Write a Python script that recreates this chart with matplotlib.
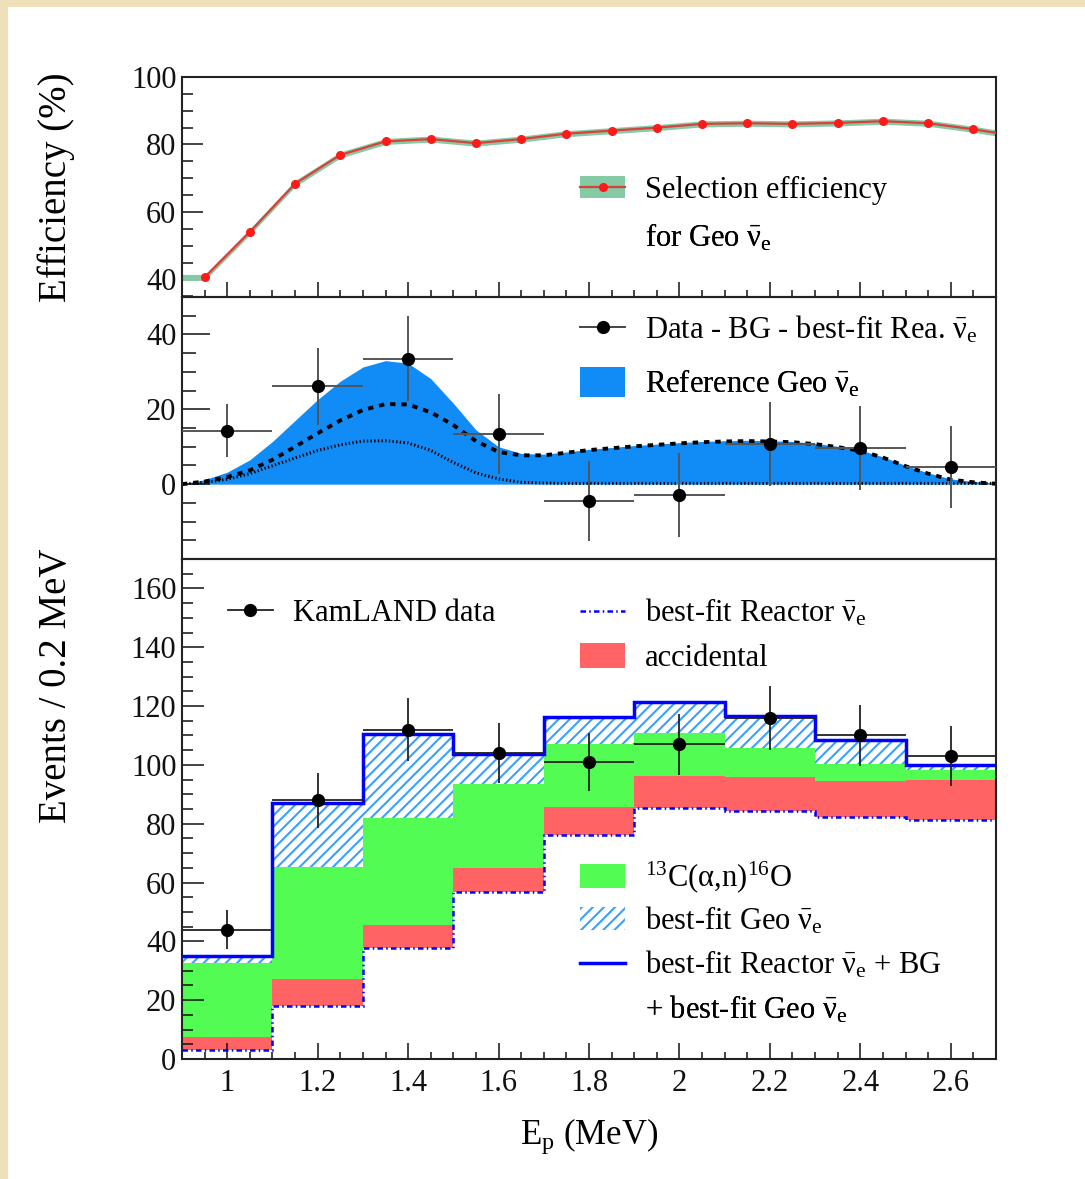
import numpy as np
import matplotlib
matplotlib.use('Agg')
import matplotlib.pyplot as plt
from matplotlib.patches import Patch, Rectangle
from matplotlib.lines import Line2D
from matplotlib.legend_handler import HandlerTuple
from matplotlib.ticker import MultipleLocator, FixedLocator, FormatStrFormatter

plt.rcParams['font.family'] = ['Liberation Serif', 'DejaVu Serif']
plt.rcParams['mathtext.fontset'] = 'custom'
plt.rcParams['mathtext.rm'] = 'Liberation Serif'
plt.rcParams['mathtext.it'] = 'Liberation Serif:italic'
plt.rcParams['mathtext.bf'] = 'Liberation Serif:bold'
plt.rcParams['hatch.linewidth'] = 1.5

E_MIN, E_MAX = 0.9, 2.7
NUE = r'$\bar{\mathrm{\nu}}_{\mathrm{e}}$'

# selection efficiency for geo-neutrinos (%)
eff_e = [0.95, 1.05, 1.15, 1.25, 1.35, 1.45, 1.55, 1.65, 1.75, 1.85,
         1.95, 2.05, 2.15, 2.25, 2.35, 2.45, 2.55, 2.65, 2.75]
eff_val = [40.6, 54.1, 68.4, 76.9, 80.9, 81.6, 80.4, 81.6, 83.2, 84.1,
           85.0, 86.1, 86.3, 86.1, 86.4, 86.9, 86.3, 84.5, 82.4]
eff_err = [0.9] * len(eff_val)

# reference geo spectrum (U and Th components)
geo_e = [0.90, 0.95, 1.00, 1.05, 1.10, 1.15, 1.20, 1.25, 1.30, 1.35,
         1.40, 1.45, 1.50, 1.55, 1.60, 1.65, 1.70, 1.75, 1.80, 1.85,
         1.90, 1.95, 2.00, 2.05, 2.10, 2.15, 2.20, 2.25, 2.30, 2.35,
         2.40, 2.45, 2.50, 2.55, 2.60, 2.65, 2.70]
geo_u = [0.0, 0.7, 1.9, 3.7, 6.5, 10.0, 13.6, 17.0, 19.8, 21.4,
         21.3, 19.2, 15.8, 11.5, 8.6, 7.7, 7.7, 8.4, 9.1, 9.6,
         10.1, 10.5, 10.9, 11.2, 11.4, 11.5, 11.4, 11.2, 10.7, 9.9,
         8.9, 7.1, 4.8, 2.8, 1.2, 0.5, 0.1]
geo_th = [0.0, 0.5, 1.3, 2.8, 4.9, 7.0, 9.0, 10.5, 11.5, 11.6,
          11.0, 9.0, 5.8, 3.0, 1.4, 0.5, 0.3, 0.2, 0.2, 0.2,
          0.2, 0.2, 0.2, 0.2, 0.2, 0.2, 0.2, 0.2, 0.2, 0.2,
          0.2, 0.2, 0.2, 0.2, 0.2, 0.2, 0.2]

# binned spectra, 0.2 MeV bins
bin_edges = [0.9, 1.1, 1.3, 1.5, 1.7, 1.9, 2.1, 2.3, 2.5, 2.7]
bin_centers = [1.0, 1.2, 1.4, 1.6, 1.8, 2.0, 2.2, 2.4, 2.6]

sub_val = [14.3, 26.1, 33.5, 13.4, -4.5, -2.9, 10.7, 9.7, 4.5]
sub_err = [7.0, 10.2, 11.4, 10.8, 10.7, 11.3, 11.2, 11.2, 11.0]

reactor = [2.9, 18.1, 37.8, 56.8, 76.0, 85.4, 84.4, 82.3, 81.4]
accidental = [4.7, 9.0, 7.6, 8.1, 9.8, 10.7, 11.5, 12.1, 13.3]
alpha_n = [24.9, 38.3, 36.4, 28.6, 21.4, 14.7, 9.9, 5.9, 3.7]
geo_fit = [2.6, 21.5, 28.6, 10.1, 9.0, 10.5, 10.7, 8.1, 1.5]
data = [44, 88, 112, 104, 101, 107, 116, 110, 103]
data_err = [6.6, 9.4, 10.6, 10.2, 10.0, 10.3, 10.8, 10.5, 10.1]

C_FILL = '#118cf7'
C_RED = '#ff6363'
C_GREEN = '#52fc52'
C_HATCH = '#3aa0ff'
C_BAND = '#86c9a5'
FS = 22
TS = 22

fig = plt.figure(figsize=(10.85, 11.79), dpi=100)
fig.patch.set_facecolor('#efe0ba')
fig.add_artist(Rectangle((8 / 1085, 0), 1, 1 - 7 / 1179, transform=fig.transFigure,
                         facecolor='white', edgecolor='none', zorder=-10))

W, H = 1085, 1179
x0, x1 = 182, 996


def panel(top, bottom, share=None):
    return fig.add_axes([x0 / W, 1 - bottom / H, (x1 - x0) / W, (bottom - top) / H], sharex=share)


ax_eff = panel(77, 297)
ax_sub = panel(297, 559, ax_eff)
ax_evt = panel(559, 1059, ax_eff)

for ax in (ax_eff, ax_sub, ax_evt):
    ax.set_facecolor('none')
    for s in ax.spines.values():
        s.set_linewidth(1.5)
        s.set_color('#222222')
    ax.tick_params(which='both', direction='in', top=False, right=False,
                   labelsize=TS, width=1.1, colors='#111111')
    ax.xaxis.set_major_locator(MultipleLocator(0.2))
    ax.xaxis.set_minor_locator(MultipleLocator(0.05))
ax_eff.set_xlim(E_MIN, E_MAX)


def key(ax, handle, label, x, y, hh=0.8):
    leg = ax.legend([handle], [label], loc='center left', bbox_to_anchor=(x, y),
                    frameon=False, borderpad=0, borderaxespad=0, fontsize=FS,
                    handlelength=1.47, handletextpad=0.65, handleheight=hh,
                    handler_map={tuple: HandlerTuple(ndivide=1, pad=0)})
    ax.add_artist(leg)


blank = Line2D([], [], linestyle='none')

# --- efficiency panel
band_e = [E_MIN] + eff_e
band_v = np.array([eff_val[0]] + eff_val)
band_d = np.array([eff_err[0]] + eff_err)
ax_eff.fill_between(band_e, band_v - band_d, band_v + band_d, color=C_BAND, lw=0, zorder=2)
ax_eff.plot(eff_e, eff_val, color='#d9413a', lw=1.6, marker='o', ms=5.5,
            mfc='#ff1a1a', mec='#ff1a1a', zorder=3)
ax_eff.set_ylim(34.8, 100)
ax_eff.yaxis.set_major_locator(FixedLocator([40, 60, 80, 100]))
ax_eff.yaxis.set_minor_locator(MultipleLocator(5))
ax_eff.tick_params(axis='y', which='major', length=15, pad=4)
ax_eff.tick_params(axis='y', which='minor', length=8)
ax_eff.tick_params(axis='x', which='major', length=10.5, labelbottom=False)
ax_eff.tick_params(axis='x', which='minor', length=5)
ax_eff.set_ylabel('Efficiency (%)', fontsize=28)
ax_eff.yaxis.set_label_coords(-0.131, 0.5)
key(ax_eff, (Patch(facecolor=C_BAND, edgecolor='none'),
             Line2D([], [], color='#d9413a', lw=1.6, marker='o', ms=5.5,
                    mfc='#ff1a1a', mec='#ff1a1a')),
    'Selection efficiency', 0.489, 0.486, hh=0.7)
key(ax_eff, blank, 'for Geo ' + NUE, 0.489, 0.27)

# --- data minus background panel
tot = np.array(geo_u) + np.array(geo_th)
ax_sub.fill_between(geo_e, 0, tot, color=C_FILL, lw=0, zorder=1)
ax_sub.plot(geo_e, geo_u, color='black', lw=2.8, ls=(0, (1.4, 1.5)), zorder=2)
ax_sub.plot(geo_e, geo_th, color='black', lw=2.2, ls=(0, (0.45, 0.75)), zorder=2)
ax_sub.errorbar(bin_centers, sub_val, yerr=sub_err, xerr=0.1, fmt='o', color='black',
                ms=8.5, ecolor='#555555', elinewidth=1.4, capsize=0, zorder=4)
ax_sub.set_ylim(-20, 50)
ax_sub.yaxis.set_major_locator(FixedLocator([0, 20, 40]))
ax_sub.yaxis.set_minor_locator(MultipleLocator(5))
ax_sub.tick_params(axis='y', which='major', length=20, pad=4)
ax_sub.tick_params(axis='y', which='minor', length=10)
ax_sub.tick_params(axis='x', which='both', bottom=False, labelbottom=False)
key(ax_sub, Line2D([], [], color='#444444', lw=1.4, marker='o', ms=8.5,
                   mfc='black', mec='black'),
    'Data - BG - best-fit Rea. ' + NUE, 0.489, 0.875)
key(ax_sub, Patch(facecolor=C_FILL, edgecolor='none'),
    'Reference Geo ' + NUE, 0.489, 0.67, hh=1.1)

# --- event spectrum panel
base = np.array(reactor, dtype=float)
acc_top = base + np.array(accidental)
an_top = acc_top + np.array(alpha_n)
total = an_top + np.array(geo_fit)

ax_evt.stairs(acc_top, bin_edges, baseline=base, fill=True, color=C_RED, lw=0, zorder=1)
ax_evt.stairs(an_top, bin_edges, baseline=acc_top, fill=True, color=C_GREEN, lw=0, zorder=1)
ax_evt.stairs(total, bin_edges, baseline=an_top, fill=True, facecolor='white',
              edgecolor=C_HATCH, hatch='///', lw=0, zorder=1)
ax_evt.stairs(total, bin_edges, baseline=None, color='#0000ff', lw=2.5, zorder=3)
ax_evt.stairs(base, bin_edges, baseline=None, color='#0000ff', lw=1.8,
              ls=(0, (2.2, 1.3, 0.6, 1.3)), zorder=3)
ax_evt.errorbar(bin_centers, data, yerr=data_err, xerr=0.1, fmt='o', color='black',
                ms=8.5, ecolor='#222222', elinewidth=1.3, capsize=0, zorder=5)
ax_evt.set_ylim(0, 170)
ax_evt.yaxis.set_major_locator(MultipleLocator(20))
ax_evt.yaxis.set_minor_locator(MultipleLocator(5))
ax_evt.tick_params(axis='y', which='major', length=16, pad=4)
ax_evt.tick_params(axis='y', which='minor', length=8)
ax_evt.tick_params(axis='x', which='major', length=11.5, pad=7)
ax_evt.tick_params(axis='x', which='minor', length=5)
ax_evt.xaxis.set_major_formatter(FormatStrFormatter('%g'))
ax_evt.set_ylabel('Events / 0.2 MeV', fontsize=28)
ax_evt.yaxis.set_label_coords(-0.131, 0.746)
ax_evt.set_xlabel(r'E$_{\rm p}$ (MeV)', fontsize=25)
ax_evt.xaxis.set_label_coords(0.5, -0.115)

key(ax_evt, Line2D([], [], color='#222222', lw=1.3, marker='o', ms=8.5,
                   mfc='black', mec='black'),
    'KamLAND data', 0.0565, 0.892)
key(ax_evt, Line2D([], [], color='#0000ff', lw=1.8, ls=(0, (2.2, 1.3, 0.6, 1.3))),
    'best-fit Reactor ' + NUE, 0.489, 0.892)
key(ax_evt, Patch(facecolor=C_RED, edgecolor='none'), 'accidental', 0.489, 0.802, hh=0.86)
key(ax_evt, Patch(facecolor=C_GREEN, edgecolor='none'),
    r'$^{13}$C($\mathrm{\alpha}$,n)$^{16}$O', 0.489, 0.363)
key(ax_evt, Patch(facecolor='white', edgecolor=C_HATCH, hatch='///', lw=0),
    'best-fit Geo ' + NUE, 0.489, 0.277)
key(ax_evt, Line2D([], [], color='#0000ff', lw=2.5),
    'best-fit Reactor ' + NUE + ' + BG', 0.489, 0.188)
key(ax_evt, blank, '+ best-fit Geo ' + NUE, 0.489, 0.098)

fig.savefig('out.png', dpi=100, facecolor=fig.get_facecolor())
